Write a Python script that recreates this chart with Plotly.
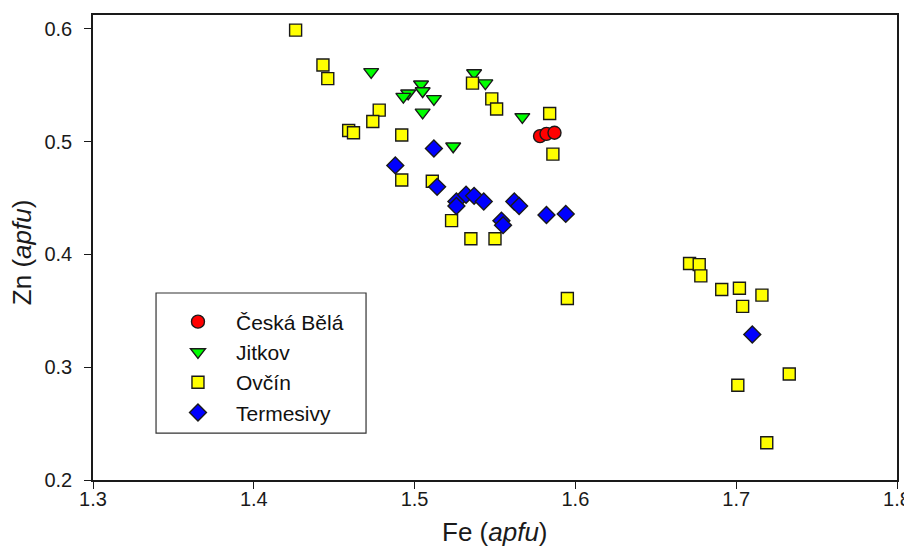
# Zn vs Fe scatter (apfu) for four localities
import plotly.graph_objects as go

# Česká Bělá
ceska_fe = [1.578, 1.582, 1.587]
ceska_zn = [0.505, 0.507, 0.508]

# Jitkov
jitkov_fe = [1.473, 1.537, 1.544, 1.504, 1.505, 1.496, 1.493, 1.512, 1.505, 1.567, 1.524]
jitkov_zn = [0.562, 0.561, 0.552, 0.551, 0.545, 0.543, 0.540, 0.538, 0.526, 0.522, 0.496]

# Ovčín
ovcin_fe = [1.426, 1.443, 1.446, 1.459, 1.462, 1.478, 1.474, 1.492, 1.536, 1.548,
            1.551, 1.584, 1.586, 1.492, 1.511, 1.523, 1.535, 1.550, 1.595, 1.671,
            1.677, 1.678, 1.691, 1.702, 1.716, 1.704, 1.733, 1.701, 1.719]
ovcin_zn = [0.599, 0.568, 0.556, 0.510, 0.508, 0.528, 0.518, 0.506, 0.552, 0.538,
            0.529, 0.525, 0.489, 0.466, 0.465, 0.430, 0.414, 0.414, 0.361, 0.392,
            0.391, 0.381, 0.369, 0.370, 0.364, 0.354, 0.294, 0.284, 0.233]

# Termesivy
termes_fe = [1.512, 1.488, 1.514, 1.526, 1.526, 1.532, 1.537, 1.543, 1.562, 1.565,
             1.554, 1.555, 1.582, 1.594, 1.710]
termes_zn = [0.494, 0.479, 0.460, 0.447, 0.443, 0.453, 0.452, 0.447, 0.447, 0.443,
             0.430, 0.426, 0.435, 0.436, 0.329]

x_ticks = [1.3, 1.4, 1.5, 1.6, 1.7, 1.8]
y_ticks = [0.2, 0.3, 0.4, 0.5, 0.6]

FONT = "Liberation Sans, Arial, sans-serif"
INK = "#1a1a1a"
EDGE = dict(color=INK, width=1.4)

series = [
    ("Česká Bělá", ceska_fe, ceska_zn, "circle", "#ff0000", 13),
    ("Jitkov", jitkov_fe, jitkov_zn, "triangle-down", "#00ff00", 13),
    ("Ovčín", ovcin_fe, ovcin_zn, "square", "#ffff00", 12),
    ("Termesivy", termes_fe, termes_zn, "diamond", "#0000ff", 13),
]

fig = go.Figure()
for name, xs, ys, sym, col, sz in series:
    fig.add_trace(go.Scatter(x=xs, y=ys, mode="markers", name=name, legendgroup=name,
                             marker=dict(symbol=sym, color=col, size=sz, line=EDGE)))

axis_common = dict(showline=True, linecolor=INK, linewidth=1.5, mirror=True,
                   ticks="outside", ticklen=7, tickcolor=INK, showgrid=False,
                   zeroline=False, automargin=False,
                   tickfont=dict(size=20, color=INK, family=FONT))

fig.update_xaxes(range=[1.3, 1.8], tickvals=x_ticks, ticklabelstandoff=-7, **axis_common)
fig.update_yaxes(range=[0.2, 0.6124], tickvals=y_ticks, ticklabelstandoff=8, **axis_common)

# axis titles
fig.add_annotation(text="Fe (<i>apfu</i>)", xref="paper", yref="paper", x=0.5, y=-0.112,
                   xanchor="center", yanchor="middle", showarrow=False,
                   font=dict(size=26, color=INK, family=FONT))
fig.add_annotation(text="Zn (<i>apfu</i>)", xref="paper", yref="paper", x=-0.0883, y=0.49,
                   xanchor="center", yanchor="middle", textangle=-90, showarrow=False,
                   font=dict(size=26, color=INK, family=FONT))

# legend frame
fig.add_shape(type="rect", xref="paper", yref="paper",
              x0=0.0784, x1=0.3396, y0=0.101, y1=0.4022,
              line=dict(color="#333", width=1.2), fillcolor="white", layer="below")

# the page body keeps an 8 px margin, so the figure is 8 px smaller than the window
fig.update_layout(
    width=904, height=538,
    margin=dict(l=85, r=15, t=7, b=66),
    paper_bgcolor="white", plot_bgcolor="white",
    font=dict(family=FONT, color=INK),
    legend=dict(x=0.0833, y=0.3839, xanchor="left", yanchor="top", itemwidth=66,
                bgcolor="rgba(0,0,0,0)", borderwidth=0, tracegroupgap=0,
                font=dict(size=21, family=FONT, color="#111")),
    showlegend=True,
)

fig.write_html("out.html")
